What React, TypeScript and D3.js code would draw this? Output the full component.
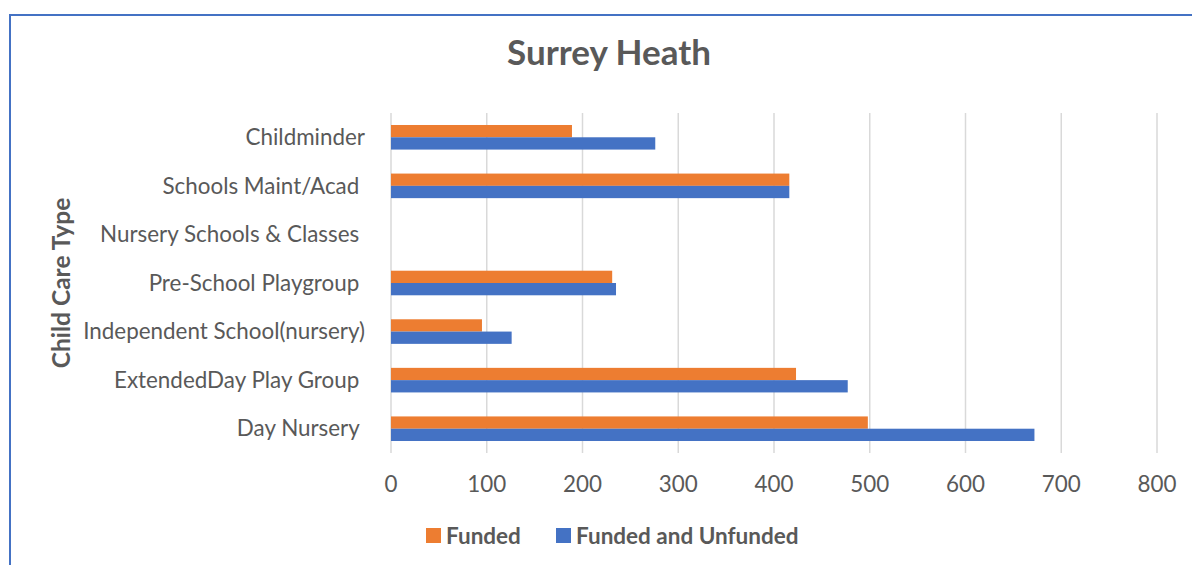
import React from "react";
import * as d3 from "d3";

const categories = [
  "Childminder",
  "Schools Maint/Acad ",
  "Nursery Schools & Classes ",
  "Pre-School Playgroup ",
  "Independent School(nursery)",
  "ExtendedDay Play Group ",
  "Day Nursery ",
];
const funded = [189, 416, 0, 231, 95, 423, 498];
const fundedAndUnfunded = [276, 416, 0, 235, 126, 477, 672];
const xTicks = [0, 100, 200, 300, 400, 500, 600, 700, 800];
const seriesNames = ["Funded", "Funded and Unfunded"];
const seriesColors = ["#ED7D31", "#4472C4"];

const W = 1192;
const H = 565;
const FONT = "Lato, 'Open Sans', sans-serif";
const TEXT = "#595959";

export default function App() {
  const x = d3.scaleLinear().domain([0, 800]).range([391, 1157]);
  const y = d3
    .scaleBand<string>()
    .domain(categories)
    .range([113, 453])
    .paddingInner(0.494)
    .paddingOuter(0.247);
  const sub = d3
    .scaleBand<string>()
    .domain(seriesNames)
    .range([0, y.bandwidth()]);
  const series = [funded, fundedAndUnfunded];

  return (
    <svg
      width={W}
      height={H}
      style={{ position: "absolute", left: 0, top: 0, display: "block" }}
    >
      <rect x={0} y={0} width={W} height={H} fill="#fff" />
      <rect
        x={10}
        y={15}
        width={W + 20}
        height={H + 20}
        fill="#fff"
        stroke="#4472C4"
        strokeWidth={2}
      />
      <text
        x={609}
        y={65}
        textAnchor="middle"
        fontFamily={FONT}
        fontWeight={700}
        fontSize={35}
        fill={TEXT}
      >
        Surrey Heath
      </text>
      {xTicks.map((t) => (
        <line
          key={t}
          x1={x(t)}
          x2={x(t)}
          y1={113}
          y2={453}
          stroke="#D9D9D9"
          strokeWidth={1.5}
        />
      ))}
      {categories.map((c, i) => (
        <g key={c}>
          {series.map((s, j) => (
            <rect
              key={j}
              x={x(0)}
              y={(y(c) as number) + (sub(seriesNames[j]) as number)}
              width={x(s[i]) - x(0)}
              height={sub.bandwidth()}
              fill={seriesColors[j]}
            />
          ))}
          <text
            x={365}
            y={(y(c) as number) + y.bandwidth() / 2 + 7.7}
            textAnchor="end"
            fontFamily={FONT}
            fontSize={22.4}
            fill={TEXT}
            style={{ whiteSpace: "pre" }}
          >
            {c}
          </text>
        </g>
      ))}
      {xTicks.map((t) => (
        <text
          key={t}
          x={x(t)}
          y={492}
          textAnchor="middle"
          fontFamily={FONT}
          fontSize={22.4}
          fill={TEXT}
        >
          {t}
        </text>
      ))}
      <text
        transform="translate(70,283) rotate(-90)"
        textAnchor="middle"
        fontFamily={FONT}
        fontWeight={700}
        fontSize={24.5}
        fill={TEXT}
      >
        Child Care Type
      </text>
      {seriesNames.map((n, j) => {
        const lx = [426, 556][j];
        return (
          <g key={n}>
            <rect x={lx} y={528} width={15} height={15} fill={seriesColors[j]} />
            <text
              x={lx + 20}
              y={544}
              fontFamily={FONT}
              fontWeight={700}
              fontSize={22.5}
              fill={TEXT}
            >
              {n}
            </text>
          </g>
        );
      })}
    </svg>
  );
}
